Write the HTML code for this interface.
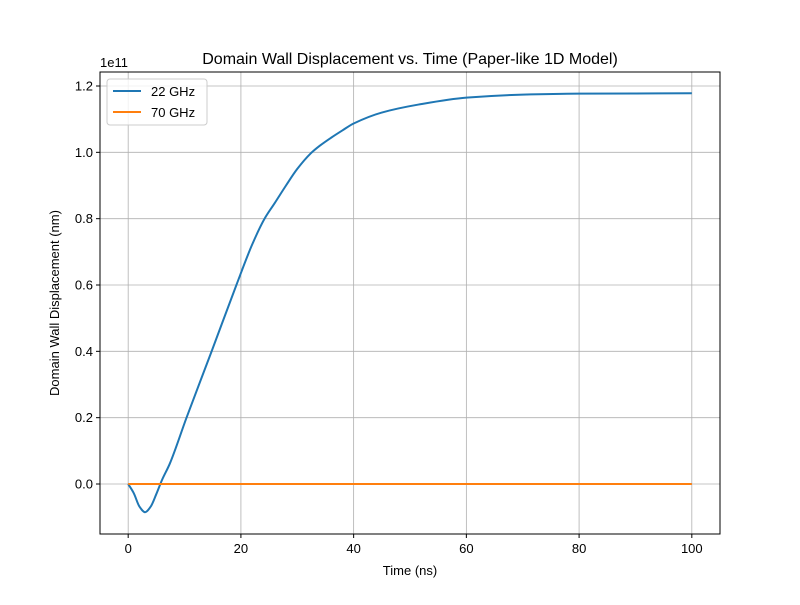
<!DOCTYPE html>
<html><head><meta charset="utf-8"><style>
body{margin:0;background:#fff;}
svg text{font-family:"Liberation Sans","DejaVu Sans",sans-serif;}
</style></head><body>
<svg id="chart" width="800" height="600" xmlns="http://www.w3.org/2000/svg">
<rect width="800" height="600" fill="#fff"/>
<g id="grid"></g>
<g id="ticks"></g>
<g id="series"></g>
<rect x="100" y="72" width="620" height="462" fill="none" stroke="#000" stroke-width="1"/>
<text x="410" y="64" font-size="16" text-anchor="middle">Domain Wall Displacement vs. Time (Paper-like 1D Model)</text>
<text x="410" y="575" font-size="13" text-anchor="middle">Time (ns)</text>
<text transform="translate(59,303) rotate(-90)" font-size="13" text-anchor="middle">Domain Wall Displacement (nm)</text>
<text x="100" y="67" font-size="13">1e11</text>
<g>
<rect x="107" y="79" width="100" height="46" rx="3" fill="#fff" fill-opacity="0.8" stroke="#ccc"/>
<line x1="113" y1="91" x2="141" y2="91" stroke="#1f77b4" stroke-width="2"/>
<text x="151" y="96" font-size="13">22 GHz</text>
<line x1="113" y1="112" x2="141" y2="112" stroke="#ff7f0e" stroke-width="2"/>
<text x="151" y="117" font-size="13">70 GHz</text>
</g>
</svg>
<script>
const xTicks=[0,20,40,60,80,100];
const yTicks=[0.0,0.2,0.4,0.6,0.8,1.0,1.2];
const times=[0,1,2,3,4,5,6,7.4,10.35,14.8,19.2,22,24.2,26,28,30,32.4,34,36,38,40,45,51.5,60,70,80,100];
const series22=[0,-0.028,-0.068,-0.085,-0.068,-0.03,0.012,0.062,0.2,0.4,0.6,0.722,0.8,0.847,0.9,0.95,0.997,1.02,1.044,1.066,1.087,1.12,1.144,1.165,1.174,1.177,1.178];
const series70=times.map(()=>0);
const ns="http://www.w3.org/2000/svg";
const X=v=>100+(v+5)/110*620;
const Y=v=>484-v*(398/1.2);
const grid=document.getElementById('grid'),ticks=document.getElementById('ticks'),ser=document.getElementById('series');
function mk(tag,at,parent){const e=document.createElementNS(ns,tag);for(const k in at)e.setAttribute(k,at[k]);parent.appendChild(e);return e;}
xTicks.forEach(t=>{
 const g=mk('line',{x1:X(t),x2:X(t),y1:72,y2:534,stroke:'#b0b0b0','stroke-width':0.8},grid);
 
 
 const tk=mk('line',{x1:X(t),x2:X(t),y1:534,y2:538,stroke:'#000'},ticks);
 
 
 const tx=mk('text',{x:X(t),y:553,'font-size':13,'text-anchor':'middle'},ticks);tx.textContent=t;
 
 
});
yTicks.forEach(t=>{
 const g=mk('line',{x1:100,x2:720,y1:Y(t),y2:Y(t),stroke:'#b0b0b0','stroke-width':0.8},grid);
 
 
 const tk=mk('line',{x1:96,x2:100,y1:Y(t),y2:Y(t),stroke:'#000'},ticks);
 
 
 const tx=mk('text',{x:93,y:Y(t)+4.5,'font-size':13,'text-anchor':'end'},ticks);tx.textContent=t.toFixed(1);
 
 
});
function path(vals){
 const n=times.length,p=times.map((t,i)=>[X(t),Y(vals[i])]);
 const m=[];
 for(let i=0;i<n;i++){
  if(i===0){m.push((p[1][1]-p[0][1])/(p[1][0]-p[0][0]));continue;}
  if(i===n-1){m.push((p[i][1]-p[i-1][1])/(p[i][0]-p[i-1][0]));continue;}
  const d0=(p[i][1]-p[i-1][1])/(p[i][0]-p[i-1][0]),d1=(p[i+1][1]-p[i][1])/(p[i+1][0]-p[i][0]);
  m.push(d0*d1<=0?0:2/(1/d0+1/d1));
 }
 let d='M'+p[0][0]+','+p[0][1];
 for(let i=0;i<n-1;i++){
  const h=p[i+1][0]-p[i][0];
  d+=`C${p[i][0]+h/3},${p[i][1]+m[i]*h/3} ${p[i+1][0]-h/3},${p[i+1][1]-m[i+1]*h/3} ${p[i+1][0]},${p[i+1][1]}`;
 }
 return d;
}
const l1=mk('path',{d:path(series22),fill:'none',stroke:'#1f77b4','stroke-width':2},ser);


const l2=mk('path',{d:path(series70),fill:'none',stroke:'#ff7f0e','stroke-width':2},ser);


</script>
</body></html>
